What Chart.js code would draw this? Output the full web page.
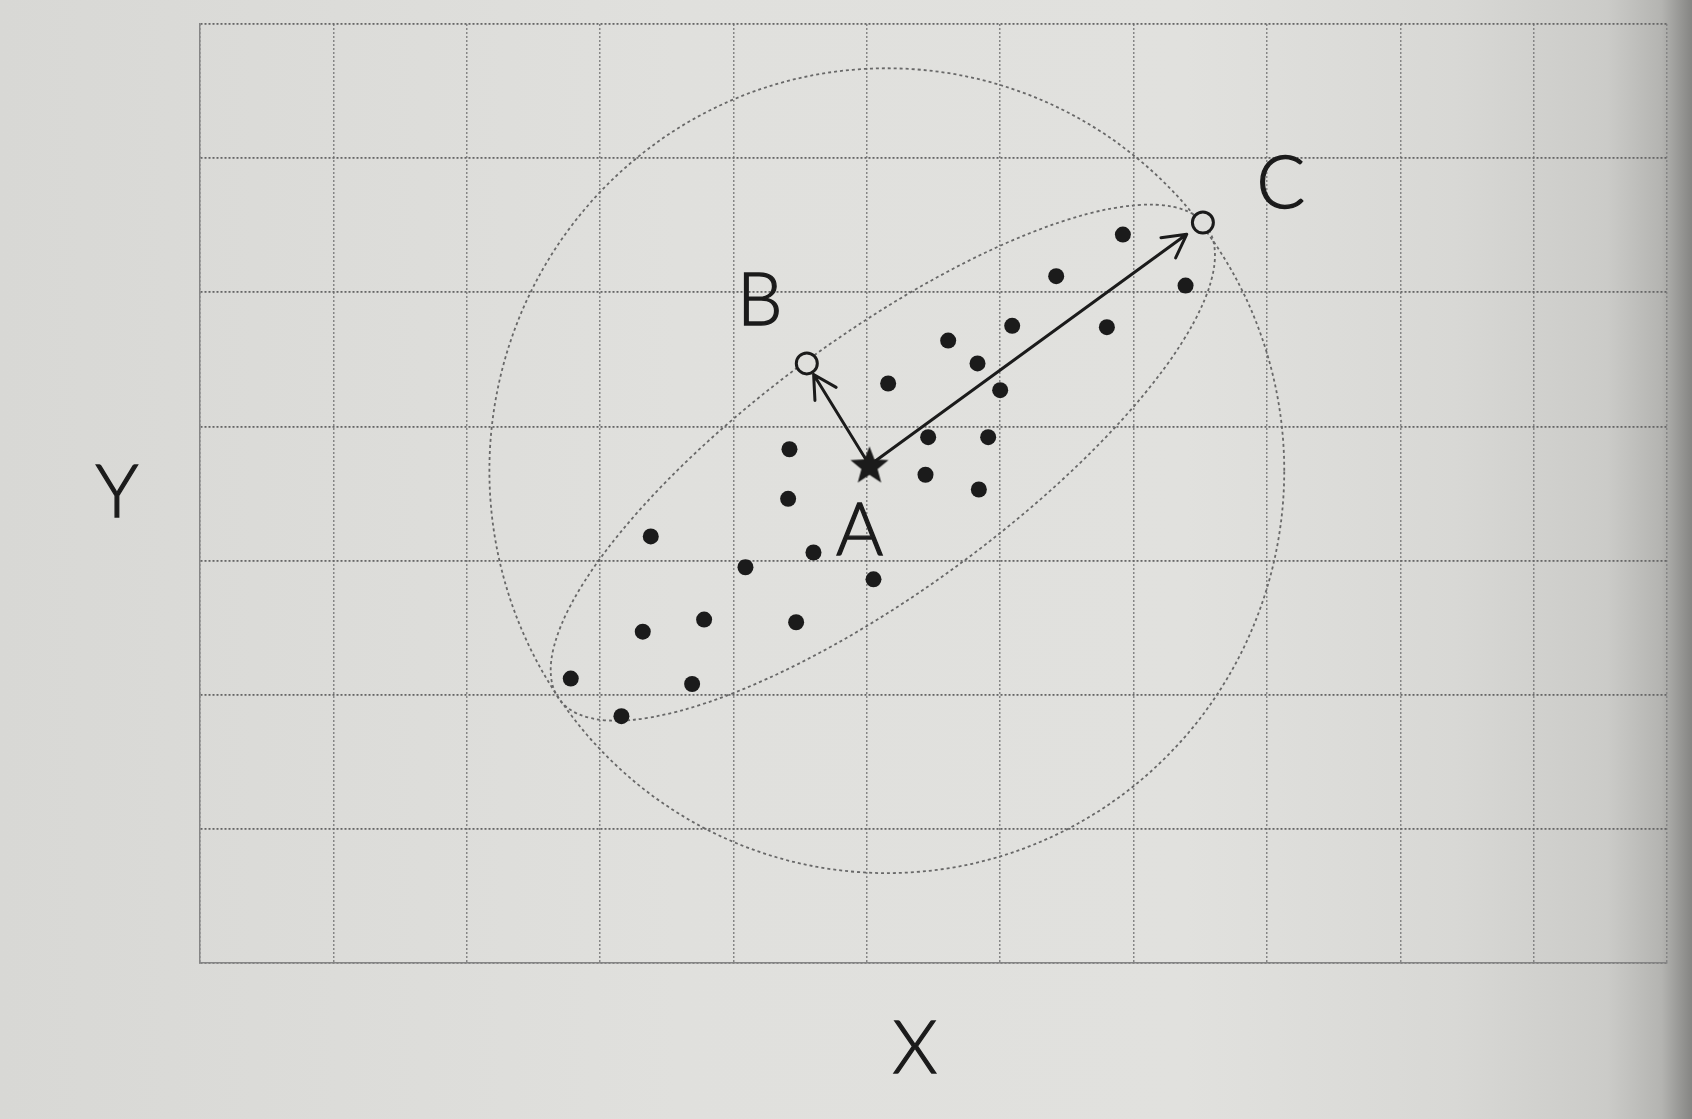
<!DOCTYPE html>
<html lang="fr">
<head>
<meta charset="UTF-8">
<title>Distance</title>
<script src="https://cdn.jsdelivr.net/npm/chart.js"></script>
<style>
    html, body { margin: 0; padding: 0; }
    body {
        width: 1692px; height: 1119px; overflow: hidden;
        background: linear-gradient(90deg, #d8d8d5 0%, #e0e0dd 40%, #e1e1de 70%, #d8d8d5 86%, #cbcbc8 95%, #b4b4b1 98.2%, #858583 100%);
    }
    canvas { display: block; }
</style>
</head>
<body>
<canvas id="chart" width="1692" height="1119"></canvas>
<script>
    // nuage de points
    const POINTS_X = [6.92, 6.42, 7.39, 6.09, 5.61, 6.80, 5.83, 5.16, 6.00, 5.46, 5.91, 5.44, 5.84,
                      4.42, 4.41, 3.38, 4.60, 4.09, 5.05, 3.32, 3.78, 4.47, 2.78, 3.69, 3.16];
    const POINTS_Y = [5.43, 5.12, 5.05, 4.75, 4.64, 4.74, 4.47, 4.32, 4.27, 3.92, 3.92, 3.64, 3.53,
                      3.83, 3.46, 3.18, 3.06, 2.95, 2.86, 2.47, 2.56, 2.54, 2.12, 2.08, 1.84];

    // A = centre, B et C = points testés
    const POINT_A = [5.02, 3.71];
    const POINT_B = [4.55, 4.47];
    const POINT_C = [7.52, 5.52];
    const NOMS = ['A', 'B', 'C'];

    // cercle (distance euclidienne) et ellipse : cx, cy, rayon 1, rayon 2, angle
    const CERCLE = [5.15, 3.67, 2.98, 3.0, 0];
    const ELLIPSE = [5.12, 3.73, 3.0, 0.95, 36];

    const X_MAX = 11;
    const Y_MAX = 7;

    const INK = '#1b1b1b';
    const PAPIER = '#dfdfdc';
    const FONT = '300 72px Lato, "Open Sans", sans-serif';

    // étoile pleine pour le point A
    const star = document.createElement('canvas');
    star.width = 44; star.height = 44;
    (function () {
        const c = star.getContext('2d');
        c.beginPath();
        for (let i = 0; i < 10; i++) {
            const r = i % 2 === 0 ? 20 : 8.5;
            const a = -Math.PI / 2 + i * Math.PI / 5;
            c.lineTo(22 + r * Math.cos(a), 23 + r * Math.sin(a));
        }
        c.closePath();
        c.fillStyle = INK;
        c.fill();
    })();

    function ellipsePath(ctx, chart, e) {
        const xs = chart.scales.x, ys = chart.scales.y;
        const sx = xs.getPixelForValue(1) - xs.getPixelForValue(0);
        const sy = ys.getPixelForValue(0) - ys.getPixelForValue(1);
        ctx.save();
        ctx.translate(xs.getPixelForValue(e[0]), ys.getPixelForValue(e[1]));
        ctx.scale(sx, -sy);
        ctx.rotate(e[4] * Math.PI / 180);
        ctx.beginPath();
        ctx.ellipse(0, 0, e[2], e[3], 0, 0, Math.PI * 2);
        ctx.restore();
    }

    function arrow(ctx, chart, from, to, gap) {
        const xs = chart.scales.x, ys = chart.scales.y;
        const x0 = xs.getPixelForValue(from[0]), y0 = ys.getPixelForValue(from[1]);
        const x1 = xs.getPixelForValue(to[0]), y1 = ys.getPixelForValue(to[1]);
        const len = Math.hypot(x1 - x0, y1 - y0);
        const ux = (x1 - x0) / len, uy = (y1 - y0) / len;
        const ex = x1 - ux * gap, ey = y1 - uy * gap;
        ctx.beginPath();
        ctx.moveTo(x0, y0);
        ctx.lineTo(ex, ey);
        const ang = Math.atan2(uy, ux);
        [-0.5, 0.5].forEach(d => {
            ctx.moveTo(ex, ey);
            ctx.lineTo(ex - 26 * Math.cos(ang + d), ey - 26 * Math.sin(ang + d));
        });
        ctx.stroke();
    }

    const decor = {
        id: 'decor',
        beforeDatasetsDraw(chart) {
            const ctx = chart.ctx;
            ctx.save();
            ctx.strokeStyle = '#686868';
            ctx.lineWidth = 1.8;
            ctx.setLineDash([3, 3]);
            ellipsePath(ctx, chart, CERCLE);
            ctx.stroke();
            ellipsePath(ctx, chart, ELLIPSE);
            ctx.stroke();
            ctx.setLineDash([]);
            ctx.strokeStyle = INK;
            ctx.lineWidth = 3;
            ctx.lineCap = 'round';
            arrow(ctx, chart, POINT_A, POINT_B, 13);
            arrow(ctx, chart, POINT_A, POINT_C, 20);
            ctx.restore();
        },
        afterDraw(chart) {
            const ctx = chart.ctx;
            const xs = chart.scales.x, ys = chart.scales.y;
            const area = chart.chartArea;
            ctx.save();
            ctx.fillStyle = INK;
            ctx.strokeStyle = INK;
            ctx.lineWidth = 1.3;
            ctx.font = FONT;
            ctx.textAlign = 'center';
            ctx.textBaseline = 'middle';
            const texte = (t, x, y) => { ctx.fillText(t, x, y); ctx.strokeText(t, x, y); };
            const offs = [[-10, 66], [-47, -62], [78, -38]];
            [POINT_A, POINT_B, POINT_C].forEach((p, i) => {
                texte(NOMS[i], xs.getPixelForValue(p[0]) + offs[i][0], ys.getPixelForValue(p[1]) + offs[i][1]);
            });
            texte('Y', 117, (area.top + area.bottom) / 2);
            texte('X', 915, 1050);
            ctx.restore();
        }
    };

    const ctx = document.getElementById('chart');

    const chart = new Chart(ctx, {
        type: 'scatter',
        data: {
            datasets: [
                {
                    data: POINTS_X.map((x, i) => ({ x: x, y: POINTS_Y[i] })),
                    pointRadius: 8,
                    backgroundColor: INK,
                    borderWidth: 0
                },
                {
                    data: [{ x: POINT_A[0], y: POINT_A[1] }],
                    pointStyle: star
                },
                {
                    data: [POINT_B, POINT_C].map(p => ({ x: p[0], y: p[1] })),
                    pointRadius: 10.5,
                    backgroundColor: PAPIER,
                    borderColor: INK,
                    borderWidth: 3
                }
            ]
        },
        options: {
            responsive: false,
            animation: false,
            layout: { padding: { left: 200, right: 25, top: 24, bottom: 156 } },
            plugins: { legend: { display: false }, tooltip: { enabled: false } },
            scales: {
                x: {
                    type: 'linear', min: 0, max: X_MAX,
                    ticks: { display: false, stepSize: 1 },
                    grid: { color: '#858585', lineWidth: 1.5, drawTicks: false },
                    border: { display: true, color: '#858585', width: 1.5, dash: [2, 2] }
                },
                y: {
                    type: 'linear', min: 0, max: Y_MAX,
                    ticks: { display: false, stepSize: 1 },
                    grid: { color: '#666666', lineWidth: 1.8, drawTicks: false },
                    border: { display: true, color: '#858585', width: 1.5, dash: [2, 2] }
                }
            }
        },
        plugins: [decor]
    });
</script>
</body>
</html>
